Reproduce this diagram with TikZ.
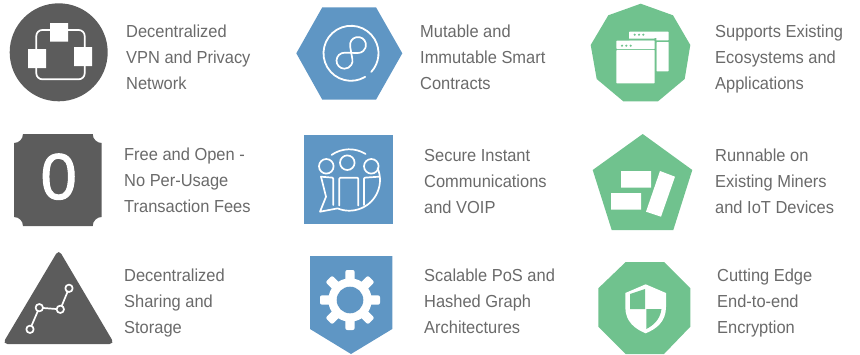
\documentclass[tikz,border=0pt]{standalone}
\usepackage{fontspec}
\setmainfont[FakeStretch=0.945]{Liberation Sans}
\newfontfamily\zerofont[FakeBold=1.6]{Liberation Sans}
\definecolor{dark}{HTML}{5C5C5C}
\definecolor{bluei}{HTML}{5F96C4}
\definecolor{greeni}{HTML}{70C28E}
\definecolor{txt}{HTML}{6A6A6A}
\tikzset{
  label text/.style={anchor=north west,inner sep=0pt,align=left,text=txt,
    font=\fontsize{17.4}{26}\selectfont},
  thin white/.style={draw=white,line width=1.7pt,line cap=round,line join=round},
}
\begin{document}
\begin{tikzpicture}[x=1pt,y=-1pt]
\useasboundingbox (0,0) rectangle (860,354);
% --- icon 1
\fill[dark] (58.7,52.3) circle[radius=49];
\draw[thin white,rounded corners=6] (36.3,30) rectangle (84.7,79.3);
\fill[white] (50,23) rectangle (68,41.7) (28,49) rectangle (46,68) (74,47) rectangle (92,66);
% --- icon 2
\fill[bluei] (296.3,53.3)--(322.3,7.3)--(376,7.3)--(402.3,53.3)--(376,99.7)--(322.3,99.7)--cycle;
\draw[thin white,line width=1.8pt] (351,53.3) ++(59:27.5) arc[start angle=59,end angle=402.5,radius=27.5];
\draw[thin white,line width=1.7pt] (358,45) ++(168:8) arc[start angle=168,end angle=451.3,radius=8]
  -- (344.7,52.7) arc[start angle=-88.7,end angle=-372,radius=8] -- cycle;
% --- icon 3
\fill[greeni] (640.7,3.7)--(673,15.3)--(690.3,45)--(684.7,79)--(658,101.3)--(623.3,101.3)--(596.7,79)--(590.7,45)--(608.3,15.3)--cycle;
\fill[white,rounded corners=0.7] (629,31.7) rectangle (668.7,40.3);
\fill[white,rounded corners=0.7] (656.3,42) rectangle (668.7,71.3);
\fill[greeni] (654.5,38) rectangle (656.3,71.3) (629,38.7) rectangle (656.3,40.3);
\fill[white,rounded corners=0.7] (616.3,40.7) rectangle (654.7,49);
\fill[white,rounded corners=0.7] (616.3,50) rectangle (654.7,83.3);
\fill[greeni] (634.7,34.7) circle[radius=1.2] (639,34.7) circle[radius=1.2] (643.3,34.7) circle[radius=1.2]
  (622,45.7) circle[radius=1.2] (626.3,45.7) circle[radius=1.2] (630.7,45.7) circle[radius=1.2];
% --- icon 4
\fill[dark] (23,134) -- (92.7,134) arc[start angle=180,end angle=90,radius=9]
  -- (101.7,217) arc[start angle=270,end angle=180,radius=9]
  -- (23,226) arc[start angle=0,end angle=-90,radius=9]
  -- (14,143) arc[start angle=90,end angle=0,radius=9] -- cycle;
\node (zero) at (58.7,176.7) [inner sep=0pt,text=white,font=\zerofont\fontsize{65}{65}\selectfont] {0};
% --- icon 5
\fill[bluei] (304,135) rectangle (392.7,224);
\begin{scope}[thin white]
\draw (349.3,180) ++(234.8:30.7) arc[start angle=234.8,end angle=302,radius=30.7];
\draw (349.3,180) ++(-22.6:30.7) arc[start angle=-22.6,end angle=112.4,radius=30.7]
  -- (320,211.7) -- (326,196.7) -- (321,176.5);
\draw (347.3,162.7) circle[radius=7.3] (326.3,166.3) circle[radius=7.3] (371.3,166.3) circle[radius=7.3];
\draw[rounded corners=1] (321,176.7) -- (333.3,177.7) -- (333.3,205);
\draw[rounded corners=1] (339.3,205.5) -- (339.3,177.7) -- (358.3,177.7) -- (358.3,205.5);
\draw[rounded corners=1] (379,176.7) -- (364,177.7) -- (364,205);
\end{scope}
% --- icon 6
\fill[greeni] (642.7,134)--(692.3,170)--(673.3,230)--(611.7,230)--(592.7,170)--cycle;
\fill[white] (621,171) rectangle (651,187.7) (611,193) rectangle (641,209.7);
\fill[white] (660,171)--(675,176.7)--(661,216.7)--(646,211.7)--cycle;
% --- icon 7
\fill[dark,rounded corners=5] (58.7,249.5)--(2.5,344)--(114.5,344)--cycle;
\draw[thin white] (69,288.3)--(60.3,309.3)--(39.3,307.7)--(30,329.3);
\draw[thin white,fill=dark] (69,288.3) circle[radius=3.7] (60.3,309.3) circle[radius=3.7] (39.3,307.7) circle[radius=3.7] (30,329.3) circle[radius=3.7];
% --- icon 8
\fill[bluei] (310,256)--(392.3,256)--(392.3,329)--(351,354)--(310,329)--cycle;
\foreach \a in {0,45,90,135}
  \fill[white,rounded corners=2,rotate around={\a:(350,300)}] (345.3,270) rectangle (354.7,330);
\fill[white] (350,300) circle[radius=21.7];
\fill[bluei] (350,300) circle[radius=13.3];
% --- icon 9
\fill[greeni] (625.7,262)--(664,262)--(690.3,288.3)--(690.3,326.7)--(664,354)--(625.7,354)--(598.3,326.7)--(598.3,288.3)--cycle;
\fill[white] (645.7,284.3) -- (666,293) -- (666,307) .. controls (666,322) and (656,329) .. (645.7,333.3)
  .. controls (635.3,329) and (625.3,322) .. (625.3,307) -- (625.3,293) -- cycle;
\fill[greeni] (645,289) -- (645,309) -- (630,309) -- (630,294) -- cycle;
\fill[greeni] (646.3,309) -- (661.5,309) .. controls (660,320) and (653,325.5) .. (646.3,329) -- cycle;
% --- labels
\node[label text] (t1) at (126,25) {Decentralized\\VPN and Privacy\\Network};
\node[label text] (t2) at (420,25) {Mutable and\\Immutable Smart\\Contracts};
\node[label text] (t3) at (715,25) {Supports Existing\\Ecosystems and\\Applications};
\node[label text] (t4) at (124,148) {Free and Open -\\No Per-Usage\\Transaction Fees};
\node[label text] (t5) at (424,149) {Secure Instant\\Communications\\and VOIP};
\node[label text] (t6) at (715,149) {Runnable on\\Existing Miners\\and IoT Devices};
\node[label text] (t7) at (124,269) {Decentralized\\Sharing and\\Storage};
\node[label text] (t8) at (424,269) {Scalable PoS and\\Hashed Graph\\Architectures};
\node[label text] (t9) at (717,269) {Cutting Edge\\End-to-end\\Encryption};
\end{tikzpicture}
\end{document}
